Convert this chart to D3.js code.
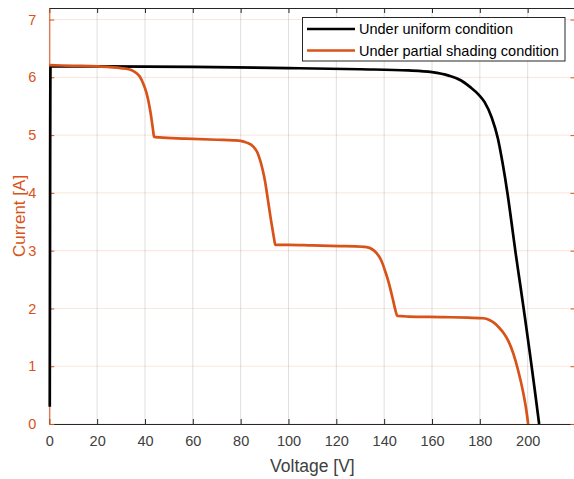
<!DOCTYPE html>
<html>
<head>
<meta charset="utf-8">
<script src="https://cdn.jsdelivr.net/npm/d3@7"></script>
<style>
  html, body { margin: 0; padding: 0; background: #fff; }
  svg { display: block; font-family: "Liberation Sans", Arial, Helvetica, sans-serif; }
</style>
</head>
<body>
<svg id="chart" width="574" height="479"></svg>
<script>
// ---- data ----
const xTicks = [0, 20, 40, 60, 80, 100, 120, 140, 160, 180, 200];
const yTicks = [0, 1, 2, 3, 4, 5, 6, 7];
const xLabel = "Voltage [V]";
const yLabel = "Current [A]";
const seriesNames = ["Under uniform condition", "Under partial shading condition"];

const uniformV = [0.2, 0.5, 20, 60, 100, 130, 150, 160, 167, 172, 176, 179.5, 182, 185, 187.5, 189.5, 191.6, 193.6, 195, 197, 199, 201, 203, 204.8];
const uniformI = [0.3, 6.19, 6.19, 6.18, 6.16, 6.14, 6.12, 6.09, 6.03, 5.95, 5.83, 5.70, 5.57, 5.30, 4.95, 4.52, 3.98, 3.38, 2.95, 2.38, 1.80, 1.20, 0.58, 0];

const shadedV = [0, 10, 20, 30, 34, 36.5, 38, 39.3, 40.5, 41.4, 42.2, 42.8, 43.4, 43.8, 46, 57, 70, 77, 80, 82.5, 85.3, 87, 88.1, 89.2, 90.2, 91, 91.8, 92.6, 93.4, 94, 94.5, 100, 110, 121.5, 128, 132.7, 135.5, 137, 138.3, 139.3, 140.3, 141.4, 142.4, 143.8, 144.7, 145.5, 150, 165, 175, 181.5, 184, 186, 188, 190, 192, 194, 196, 198, 199.5, 200.2];
const shadedI = [6.21, 6.20, 6.19, 6.16, 6.13, 6.07, 6.00, 5.89, 5.75, 5.60, 5.42, 5.26, 5.08, 4.97, 4.96, 4.94, 4.92, 4.91, 4.90, 4.87, 4.80, 4.70, 4.57, 4.40, 4.20, 3.99, 3.77, 3.55, 3.35, 3.20, 3.10, 3.10, 3.09, 3.08, 3.075, 3.06, 3.01, 2.95, 2.87, 2.78, 2.66, 2.52, 2.37, 2.13, 1.97, 1.87, 1.86, 1.85, 1.84, 1.83, 1.80, 1.75, 1.67, 1.57, 1.43, 1.22, 0.93, 0.57, 0.22, 0];

// ---- layout ----
const orange = "#D95319";
const axisGray = "#262626";
const L = 49.3, R = 575.5, T = 8, B = 424;

const svg = d3.select("#chart");
const x = d3.scaleLinear().domain([0, 220]).range([L, R]);
const y = d3.scaleLinear().domain([0, 7.2]).range([B, T]);

// grid
const grid = svg.append("g");
grid.selectAll(".vg").data(xTicks.concat([220])).enter().append("line")
  .attr("x1", d => x(d)).attr("x2", d => x(d)).attr("y1", T).attr("y2", B)
  .attr("stroke", "#262626").attr("stroke-opacity", 0.15).attr("stroke-width", 1);
grid.selectAll(".hg").data(yTicks).enter().append("line")
  .attr("x1", L).attr("x2", R).attr("y1", d => y(d)).attr("y2", d => y(d))
  .attr("stroke", orange).attr("stroke-opacity", 0.15).attr("stroke-width", 1);

// axes
const xAxis = svg.append("g").attr("transform", `translate(0,${B})`)
  .call(d3.axisBottom(x).tickValues(xTicks).tickSizeInner(-5).tickSizeOuter(0).tickPadding(12));
xAxis.select(".domain").attr("stroke", axisGray);
xAxis.selectAll(".tick line").attr("stroke", axisGray);
xAxis.selectAll(".tick text").attr("fill", "#404040").style("font-size", "14.5px")
  .style("font-family", "'Liberation Sans', Arial, sans-serif");

const xTop = svg.append("g").attr("transform", `translate(0,${T})`)
  .call(d3.axisTop(x).tickValues(xTicks).tickSizeInner(-5).tickSizeOuter(0).tickFormat(""));
xTop.select(".domain").attr("stroke", axisGray);
xTop.selectAll(".tick line").attr("stroke", axisGray);

const yAxis = svg.append("g").attr("transform", `translate(${L},0)`)
  .call(d3.axisLeft(y).tickValues(yTicks).tickSizeInner(-5).tickSizeOuter(0).tickPadding(13));
yAxis.select(".domain").attr("stroke", orange);
yAxis.selectAll(".tick line").attr("stroke", orange);
yAxis.selectAll(".tick text").attr("fill", orange).style("font-size", "14.5px")
  .style("font-family", "'Liberation Sans', Arial, sans-serif");

const yRight = svg.append("g").attr("transform", `translate(${R},0)`)
  .call(d3.axisRight(y).tickValues(yTicks).tickSizeInner(-5).tickSizeOuter(0).tickFormat(""));
yRight.select(".domain").attr("stroke", orange);
yRight.selectAll(".tick line").attr("stroke", orange);

// labels
svg.append("text").attr("x", (L + R) / 2).attr("y", 472).attr("text-anchor", "middle")
  .attr("fill", "#404040").style("font-size", "17.5px").text(xLabel);
svg.append("text").attr("transform", `translate(25,${(T + B) / 2}) rotate(-90)`)
  .attr("text-anchor", "middle").attr("fill", orange).style("font-size", "17px").text(yLabel);

// lines
const line = d3.line().x(d => x(d[0])).y(d => y(d[1])).curve(d3.curveMonotoneX);
const uniform = uniformV.map((v, i) => [v, uniformI[i]]);
const shaded = shadedV.map((v, i) => [v, shadedI[i]]);

const clip = svg.append("clipPath").attr("id", "clip").append("rect")
  .attr("x", L - 2).attr("y", T).attr("width", R - L + 4).attr("height", B - T);

svg.append("path").datum(uniform).attr("d", line).attr("fill", "none")
  .attr("stroke", "#000").attr("stroke-width", 2.7).attr("stroke-linejoin", "round")
  .attr("clip-path", "url(#clip)");
svg.append("path").datum(shaded).attr("d", line).attr("fill", "none")
  .attr("stroke", orange).attr("stroke-width", 2.7).attr("stroke-linejoin", "round")
  .attr("clip-path", "url(#clip)");

// legend
const lg = svg.append("g");
lg.append("rect").attr("x", 302.5).attr("y", 17.5).attr("width", 262.5).attr("height", 43.5)
  .attr("fill", "#fff").attr("stroke", "#262626").attr("stroke-width", 1);
const colors = ["#000", orange];
const rowsY = [29, 50.5];
seriesNames.forEach((name, i) => {
  lg.append("line").attr("x1", 307).attr("x2", 355).attr("y1", rowsY[i]).attr("y2", rowsY[i])
    .attr("stroke", colors[i]).attr("stroke-width", 2.7);
  lg.append("text").attr("x", 359).attr("y", rowsY[i] + 5).attr("fill", "#000")
    .style("font-size", "14.5px").text(name);
});
</script>
</body>
</html>
